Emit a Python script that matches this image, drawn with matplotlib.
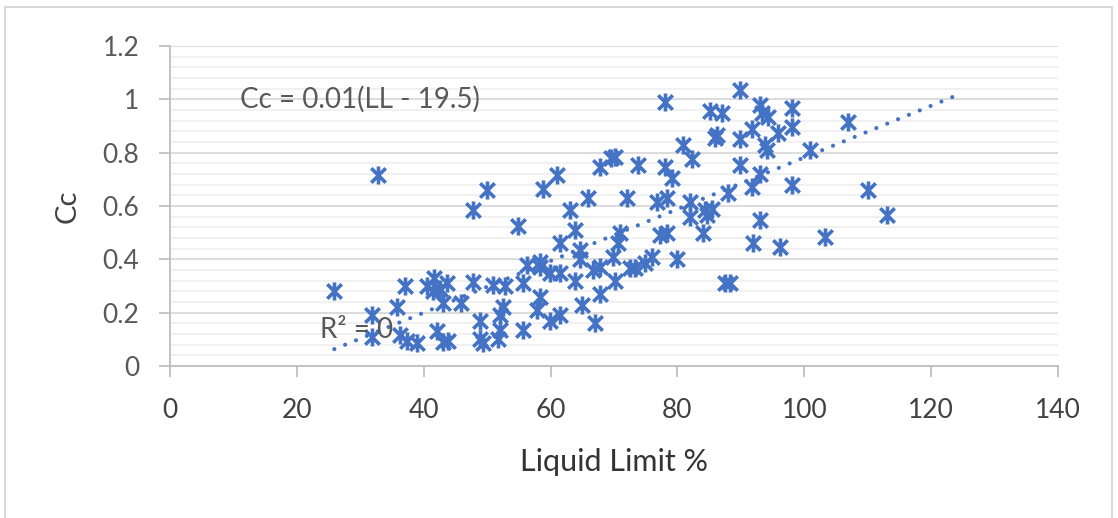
import matplotlib
matplotlib.use('Agg')
import matplotlib.pyplot as plt
import numpy as np
from matplotlib.patches import Rectangle
from matplotlib.path import Path
from matplotlib.ticker import MultipleLocator

# --- Data ---
LIQUID_LIMIT = [
    25.9, 32.8, 31.8, 31.8, 35.8, 37.0, 36.3, 37.4, 38.9, 40.5,
    41.6, 41.5, 42.5, 43.0, 43.7, 42.1, 43.0, 43.8, 45.9, 47.8,
    50.0, 47.8, 48.9, 48.9, 49.3, 50.9, 52.8, 52.0, 52.5, 51.7,
    52.0, 54.9, 55.7, 56.3, 55.7, 58.3, 58.3, 58.3, 57.8, 58.8,
    61.0, 59.9, 61.5, 61.5, 59.9, 61.5, 63.0, 63.8, 64.6, 64.6,
    63.8, 65.0, 65.9, 66.7, 67.8, 67.8, 67.0, 67.8, 70.2, 69.5,
    73.8, 72.0, 70.9, 70.6, 69.8, 70.2, 72.5, 73.3, 74.9, 76.0,
    76.8, 78.4, 77.3, 78.4, 78.0, 78.0, 79.1, 80.0, 80.9, 82.3,
    82.0, 82.0, 84.3, 85.4, 84.7, 84.0, 85.1, 87.0, 85.9, 86.2,
    89.9, 88.0, 87.5, 88.3, 89.9, 89.9, 91.8, 91.8, 91.9, 93.0,
    93.3, 94.3, 93.8, 94.1, 93.0, 93.0, 95.9, 96.2, 98.1, 98.1,
    98.1, 100.9, 103.3, 106.9, 110.0, 113.0,
]
CC = [
    0.28, 0.715, 0.19, 0.11, 0.22, 0.30, 0.115, 0.095, 0.085, 0.30,
    0.33, 0.28, 0.29, 0.235, 0.31, 0.13, 0.09, 0.095, 0.235, 0.315,
    0.66, 0.585, 0.17, 0.10, 0.085, 0.305, 0.30, 0.19, 0.22, 0.10,
    0.135, 0.525, 0.31, 0.38, 0.135, 0.37, 0.39, 0.26, 0.21, 0.665,
    0.715, 0.17, 0.19, 0.46, 0.35, 0.35, 0.585, 0.51, 0.435, 0.40,
    0.32, 0.23, 0.63, 0.36, 0.37, 0.27, 0.16, 0.745, 0.785, 0.78,
    0.753, 0.63, 0.50, 0.46, 0.41, 0.32, 0.367, 0.367, 0.385, 0.41,
    0.615, 0.63, 0.49, 0.50, 0.99, 0.745, 0.705, 0.40, 0.83, 0.775,
    0.615, 0.56, 0.585, 0.59, 0.565, 0.50, 0.955, 0.95, 0.855, 0.865,
    1.035, 0.65, 0.31, 0.31, 0.85, 0.753, 0.89, 0.67, 0.46, 0.98,
    0.95, 0.934, 0.83, 0.81, 0.72, 0.547, 0.873, 0.445, 0.967, 0.896,
    0.68, 0.81, 0.484, 0.915, 0.66, 0.566,
]

TREND_SLOPE = 0.0097
TREND_INTERCEPT = -0.188
TREND_END = 125

EQUATION = 'Cc = 0.01(LL - 19.5)'
R2_LABEL = 'R² = 0'

BLUE = '#4472C4'
GRID_MAJOR = '#D9D9D9'
GRID_MINOR = '#F0F0F0'
AXIS_GRAY = '#BFBFBF'

plt.rcParams['font.family'] = ['Lato', 'DejaVu Sans']

# Excel style "star" marker: an x with a vertical bar through it
star = Path(
    [(-1, -1), (1, 1), (-1, 1), (1, -1), (0, -1.25), (0, 1.25)],
    [Path.MOVETO, Path.LINETO, Path.MOVETO, Path.LINETO, Path.MOVETO, Path.LINETO],
)

fig = plt.figure(figsize=(11.18, 5.18), dpi=100)
ax = fig.add_axes([170 / 1118, 1 - 366 / 518, 888 / 1118, 320 / 518])

# grid
ax.yaxis.set_major_locator(MultipleLocator(0.2))
ax.yaxis.set_minor_locator(MultipleLocator(0.04))
ax.xaxis.set_major_locator(MultipleLocator(20))
ax.grid(which='major', axis='y', color=GRID_MAJOR, linewidth=1.3, zorder=0)
ax.grid(which='minor', axis='y', color=GRID_MINOR, linewidth=1.3, zorder=0)
ax.set_axisbelow(True)

# scatter
ax.plot(LIQUID_LIMIT, CC, linestyle='none', marker=star, markersize=13,
        markeredgewidth=2.6, color=BLUE, zorder=3, clip_on=False)

# trendline
tx = np.array([min(LIQUID_LIMIT), TREND_END])
ax.plot(tx, TREND_SLOPE * tx + TREND_INTERCEPT, linestyle=(0, (0.01, 2.8)),
        linewidth=3.0, dash_capstyle='round', color=BLUE, zorder=4)

ax.text(11, 1.0, EQUATION, fontsize=20, color='#595959', va='center', ha='left', zorder=5)
ax.text(23.6, 0.135, R2_LABEL, fontsize=20, color='#595959', va='center', ha='left', zorder=5)

ax.set_xlim(0, 140)
ax.set_ylim(0, 1.2)

for side in ('top', 'right'):
    ax.spines[side].set_visible(False)
for side in ('left', 'bottom'):
    ax.spines[side].set_color(AXIS_GRAY)
    ax.spines[side].set_linewidth(1.3)

ax.tick_params(axis='both', which='major', direction='out', length=8, width=1.3,
               color=AXIS_GRAY, labelsize=19)
ax.tick_params(axis='y', which='minor', length=0)
ax.tick_params(axis='y', pad=14, labelcolor='#595959')
ax.tick_params(axis='x', pad=15, labelcolor='#404040')
ax.set_yticks(np.arange(0, 1.21, 0.2))
ax.set_yticklabels(['0', '0.2', '0.4', '0.6', '0.8', '1', '1.2'])

ax.set_xlabel('Liquid Limit %', fontsize=22, color='#333333', labelpad=18)
ax.set_ylabel('Cc', fontsize=21, color='#404040', labelpad=16)

# chart area border
fig.add_artist(Rectangle((5 / 1118, -0.05), 1107 / 1118, 1 - 7 / 518 + 0.05,
                         transform=fig.transFigure, fill=False,
                         edgecolor='#D9D9D9', linewidth=1.5))

fig.savefig('out.png', dpi=100, facecolor='white')
